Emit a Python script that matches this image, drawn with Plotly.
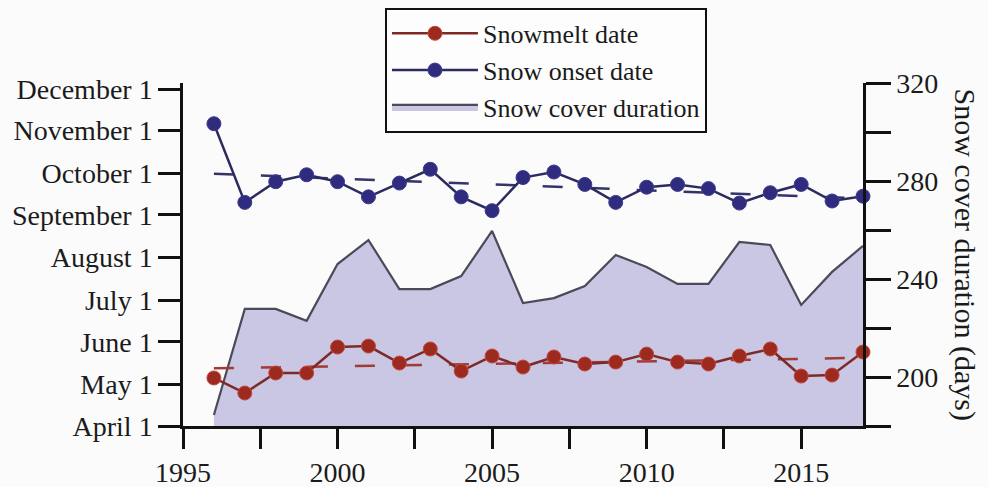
import numpy as np
import plotly.graph_objects as go

# ---- data ----------------------------------------------------------------
years = list(range(1996, 2018))

# day of year (non-leap calendar)
snowmelt_doy = [125.8, 114.9, 129.4, 129.4, 148.2, 148.9, 136.6, 146.8, 130.8, 141.7, 133.7,
                141.0, 135.9, 137.3, 143.1, 137.3, 135.9, 141.7, 146.8, 127.2, 127.9, 144.6]
onset_doy = [310.0, 253.0, 268.0, 273.0, 268.0, 257.0, 267.0, 277.0, 257.0, 247.0, 271.0,
             275.0, 266.0, 253.0, 264.0, 266.0, 263.0, 252.5, 260.0, 266.0, 254.0, 257.5]
# days
duration_days = [184.5, 227.8, 227.8, 222.9, 246.1, 255.9, 235.9, 235.9, 241.2, 259.6, 230.2,
                 232.2, 237.1, 249.8, 244.9, 238.0, 238.0, 255.1, 253.9, 229.4, 242.9, 253.5]

month_labels = ["April 1", "May 1", "June 1", "July 1", "August 1",
                "September 1", "October 1", "November 1", "December 1"]
month_doy = [91, 121, 152, 182, 213, 244, 274, 305, 335]

x_ticks = [1995, 1997.5, 2000, 2002.5, 2005, 2007.5, 2010, 2012.5, 2015]
x_labels = ["1995", "", "2000", "", "2005", "", "2010", "", "2015"]

dur_ticks = [180, 200, 220, 240, 260, 280, 300, 320]
dur_labels = ["", "200", "", "240", "", "280", "", "320"]

# ---- linear trends -------------------------------------------------------
yrs = np.array(years, dtype=float)
melt_fit = np.polyval(np.polyfit(yrs, snowmelt_doy, 1), yrs)
onset_fit = np.polyval(np.polyfit(yrs, onset_doy, 1), yrs)

FONT = "Liberation Serif, Times New Roman, serif"
RED = "#9c2a1f"
RED_LINE = "#7e2a27"
BLUE = "#2f2c80"
BLUE_LINE = "#2c2b60"

fig = go.Figure()

# snow cover duration area (right axis, drawn first so it sits behind)
fig.add_trace(go.Scatter(
    x=years, y=duration_days, yaxis="y", name="Snow cover duration",
    mode="lines", fill="tozeroy", fillcolor="#c9c7e3",
    line=dict(color="#4a4a58", width=2.2), legendrank=3,
))

# trend lines
fig.add_trace(go.Scatter(
    x=years, y=melt_fit, yaxis="y2", mode="lines", showlegend=False,
    line=dict(color="#a23a35", width=2.5, dash="20px,27px"),
))
fig.add_trace(go.Scatter(
    x=years, y=onset_fit, yaxis="y2", mode="lines", showlegend=False,
    line=dict(color="#34346a", width=2.5, dash="20px,27px"),
))

# snowmelt and onset dates (left axis)
fig.add_trace(go.Scatter(
    x=years, y=snowmelt_doy, yaxis="y2", name="Snowmelt date",
    mode="lines+markers", line=dict(color=RED_LINE, width=2.5),
    marker=dict(size=14, color=RED, line=dict(color="#c2483e", width=1)),
    cliponaxis=False, legendrank=1,
))
fig.add_trace(go.Scatter(
    x=years, y=onset_doy, yaxis="y2", name="Snow onset date",
    mode="lines+markers", line=dict(color=BLUE_LINE, width=2.5),
    marker=dict(size=14, color=BLUE, line=dict(color="#3d3b8c", width=1)),
    cliponaxis=False, legendrank=2,
))

tickfont = dict(family=FONT, size=28, color="#1b1b1b")

fig.update_layout(
    width=988, height=487,
    margin=dict(l=183, r=125, t=83, b=61, autoexpand=False),
    paper_bgcolor="#fbfbfb", plot_bgcolor="#fbfbfb",
    font=dict(family=FONT, color="#1b1b1b"),
    showlegend=True,
    legend=dict(
        x=0.297, y=1.219, xanchor="left", yanchor="top",
        bgcolor="#fdfdfd", bordercolor="#111111", borderwidth=2,
        font=dict(family=FONT, size=26, color="#1b1b1b"),
        itemwidth=86, tracegroupgap=0,
    ),
    xaxis=dict(
        range=[1995, 2017], tickvals=x_ticks, ticktext=x_labels,
        showgrid=False, zeroline=False, showline=True, linecolor="#111111", linewidth=2.5,
        ticks="outside", ticklen=20, tickwidth=2.5, tickcolor="#111111",
        tickfont=tickfont, automargin=False,
    ),
    yaxis=dict(
        side="right", range=[180, 320], tickvals=dur_ticks, ticktext=dur_labels,
        showgrid=False, zeroline=False, showline=True, linecolor="#111111", linewidth=2.5,
        ticks="outside", ticklen=25, tickwidth=2.5, tickcolor="#111111",
        tickfont=tickfont, automargin=False,
    ),
    yaxis2=dict(
        side="left", overlaying="y", range=[91, 339.5],
        tickvals=month_doy, ticktext=month_labels,
        showgrid=False, zeroline=False, showline=True, linecolor="#111111", linewidth=2.5,
        ticks="outside", ticklen=22, tickwidth=2.5, tickcolor="#111111",
        tickfont=tickfont, automargin=False,
    ),
    annotations=[dict(
        text="Snow cover duration (days)", xref="paper", yref="paper",
        x=1.15, y=0.5, xanchor="center", yanchor="middle", showarrow=False,
        textangle=90, font=dict(family=FONT, size=30, color="#1b1b1b"),
    )],
)

fig.write_html("out.html")
